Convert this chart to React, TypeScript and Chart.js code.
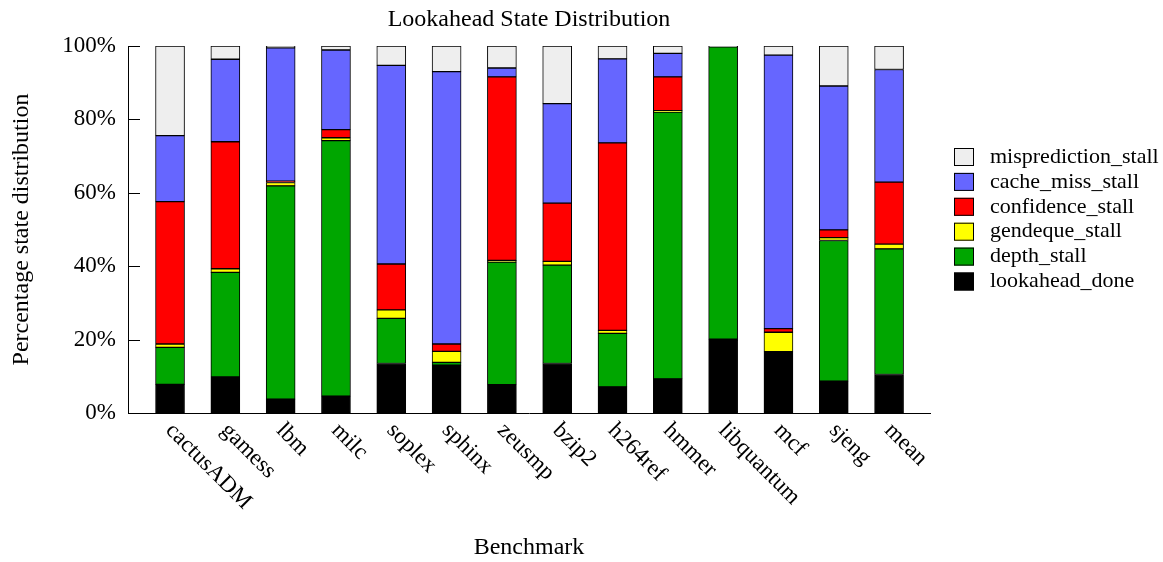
import React, { useEffect, useRef } from "react";
import { Chart, registerables } from "chart.js";

Chart.register(...registerables);

const categories = [
  "cactusADM", "gamess", "lbm", "milc", "soplex", "sphinx", "zeusmp",
  "bzip2", "h264ref", "hmmer", "libquantum", "mcf", "sjeng", "mean",
];

const lookaheadDone = [7.8, 9.8, 3.8, 4.6, 13.5, 13.0, 7.7, 13.5, 7.1, 9.3, 20.1, 16.7, 8.7, 10.5];
const depthStall = [10.1, 28.5, 58.1, 69.6, 12.3, 0.8, 33.4, 26.8, 14.6, 72.7, 79.7, 0, 38.3, 34.2];
const gendequeStall = [0.9, 1.0, 0.9, 0.8, 2.3, 3.0, 0.5, 1.0, 0.8, 0.4, 0, 5.3, 0.8, 1.3];
const confidenceStall = [38.8, 34.6, 0.4, 2.2, 12.5, 2.0, 50.0, 15.9, 51.1, 9.2, 0, 1.0, 2.1, 16.9];
const cacheMissStall = [18.0, 22.5, 36.3, 21.7, 54.1, 74.2, 2.4, 27.1, 22.9, 6.4, 0, 74.5, 39.2, 30.7];
const mispredictionStall = [24.4, 3.6, 0.5, 1.1, 5.3, 7.0, 6.0, 15.7, 3.5, 2.0, 0.2, 2.5, 10.9, 6.4];

const yTicks = [0, 20, 40, 60, 80, 100];

const seriesDefs = [
  { label: "lookahead_done", data: lookaheadDone, color: "#000000" },
  { label: "depth_stall", data: depthStall, color: "#00a600" },
  { label: "gendeque_stall", data: gendequeStall, color: "#ffff00" },
  { label: "confidence_stall", data: confidenceStall, color: "#ff0000" },
  { label: "cache_miss_stall", data: cacheMissStall, color: "#6666ff" },
  { label: "misprediction_stall", data: mispredictionStall, color: "#eeeeee" },
];

const FONT = "'Liberation Serif', 'DejaVu Serif', serif";

const overlayPlugin = {
  id: "overlay",
  afterDraw(chart: any) {
    const { ctx, chartArea, scales } = chart;
    const xs = scales.x;
    const ys = scales.y;
    ctx.save();
    // inward y ticks
    ctx.strokeStyle = "#000";
    ctx.lineWidth = 1;
    yTicks.forEach((t) => {
      const py = Math.round(ys.getPixelForValue(t)) + 0.5;
      ctx.beginPath();
      ctx.moveTo(chartArea.left, py);
      ctx.lineTo(chartArea.left + 12, py);
      ctx.stroke();
    });
    // rotated x labels
    ctx.fillStyle = "#000";
    ctx.font = `23px ${FONT}`;
    ctx.textAlign = "left";
    ctx.textBaseline = "middle";
    categories.forEach((c, i) => {
      const px = xs.getPixelForValue(i);
      ctx.save();
      ctx.translate(px - 1, chartArea.bottom + 14);
      ctx.rotate(Math.PI / 4);
      ctx.fillText(c, 0, 0);
      ctx.restore();
    });
    // legend (reversed order)
    ctx.font = `22px ${FONT}`;
    const items = chart.data.datasets.slice().reverse();
    const bx = chartArea.right + 24;
    const by = 148;
    items.forEach((ds: any, k: number) => {
      const y = by + k * 24.9;
      ctx.fillStyle = ds.backgroundColor;
      ctx.fillRect(bx, y, 20, 18);
      ctx.strokeStyle = "#000";
      ctx.strokeRect(bx + 0.5, y + 0.5, 19, 17);
      ctx.fillStyle = "#000";
      ctx.fillText(ds.label, bx + 36, y + 9);
    });
    ctx.restore();
  },
};

export default function App() {
  const ref = useRef<HTMLCanvasElement | null>(null);
  useEffect(() => {
    document.body.style.margin = "0";
    document.body.style.overflow = "hidden";
    if (!ref.current) return;
    const chart = new Chart(ref.current, {
      type: "bar",
      data: {
        datasets: seriesDefs.map((s) => ({
          label: s.label,
          data: s.data.map((v, i) => ({ x: i, y: v })),
          backgroundColor: s.color,
          borderColor: "#000000",
          borderWidth: 1,
          borderSkipped: false,
          barThickness: 29,
        })),
      },
      options: {
        animation: false,
        responsive: false,
        layout: { padding: { right: 233, left: 0, top: 0, bottom: 0 } },
        plugins: {
          legend: { display: false },
          tooltip: { enabled: false },
          title: {
            display: true,
            text: "Lookahead State Distribution",
            fullSize: false,
            color: "#000",
            font: { family: FONT, size: 24, weight: "normal" },
            padding: { top: 5.6, bottom: 11.6 },
          },
        },
        scales: {
          x: {
            type: "linear",
            min: -0.76,
            max: 13.74,
            offset: false,
            stacked: true,
            grid: { display: false },
            border: { display: true, color: "#000", width: 1 },
            ticks: { display: false },
            title: {
              display: true,
              text: "Benchmark",
              color: "#000",
              font: { family: FONT, size: 24, weight: "normal" },
              padding: { top: 0, bottom: 0 },
            },
            afterFit: (s: any) => {
              s.height = 149;
            },
          },
          y: {
            type: "linear",
            min: 0,
            max: 100,
            stacked: true,
            grid: { display: false },
            border: { display: true, color: "#000", width: 1 },
            ticks: {
              stepSize: 20,
              color: "#000",
              padding: 4,
              font: { family: FONT, size: 23 },
              callback: (v: any) => `${v}%`,
            },
            title: {
              display: true,
              text: "Percentage state distribution",
              color: "#000",
              font: { family: FONT, size: 24, weight: "normal" },
              padding: { top: 7.6, bottom: 0 },
            },
            afterFit: (s: any) => {
              s.width = 128;
            },
          },
        },
      },
      plugins: [overlayPlugin],
    } as any);
    return () => chart.destroy();
  }, []);
  return (
    <div style={{ width: 1163, height: 562 }}>
      <canvas ref={ref} width={1163} height={562} style={{ display: "block" }} />
    </div>
  );
}
